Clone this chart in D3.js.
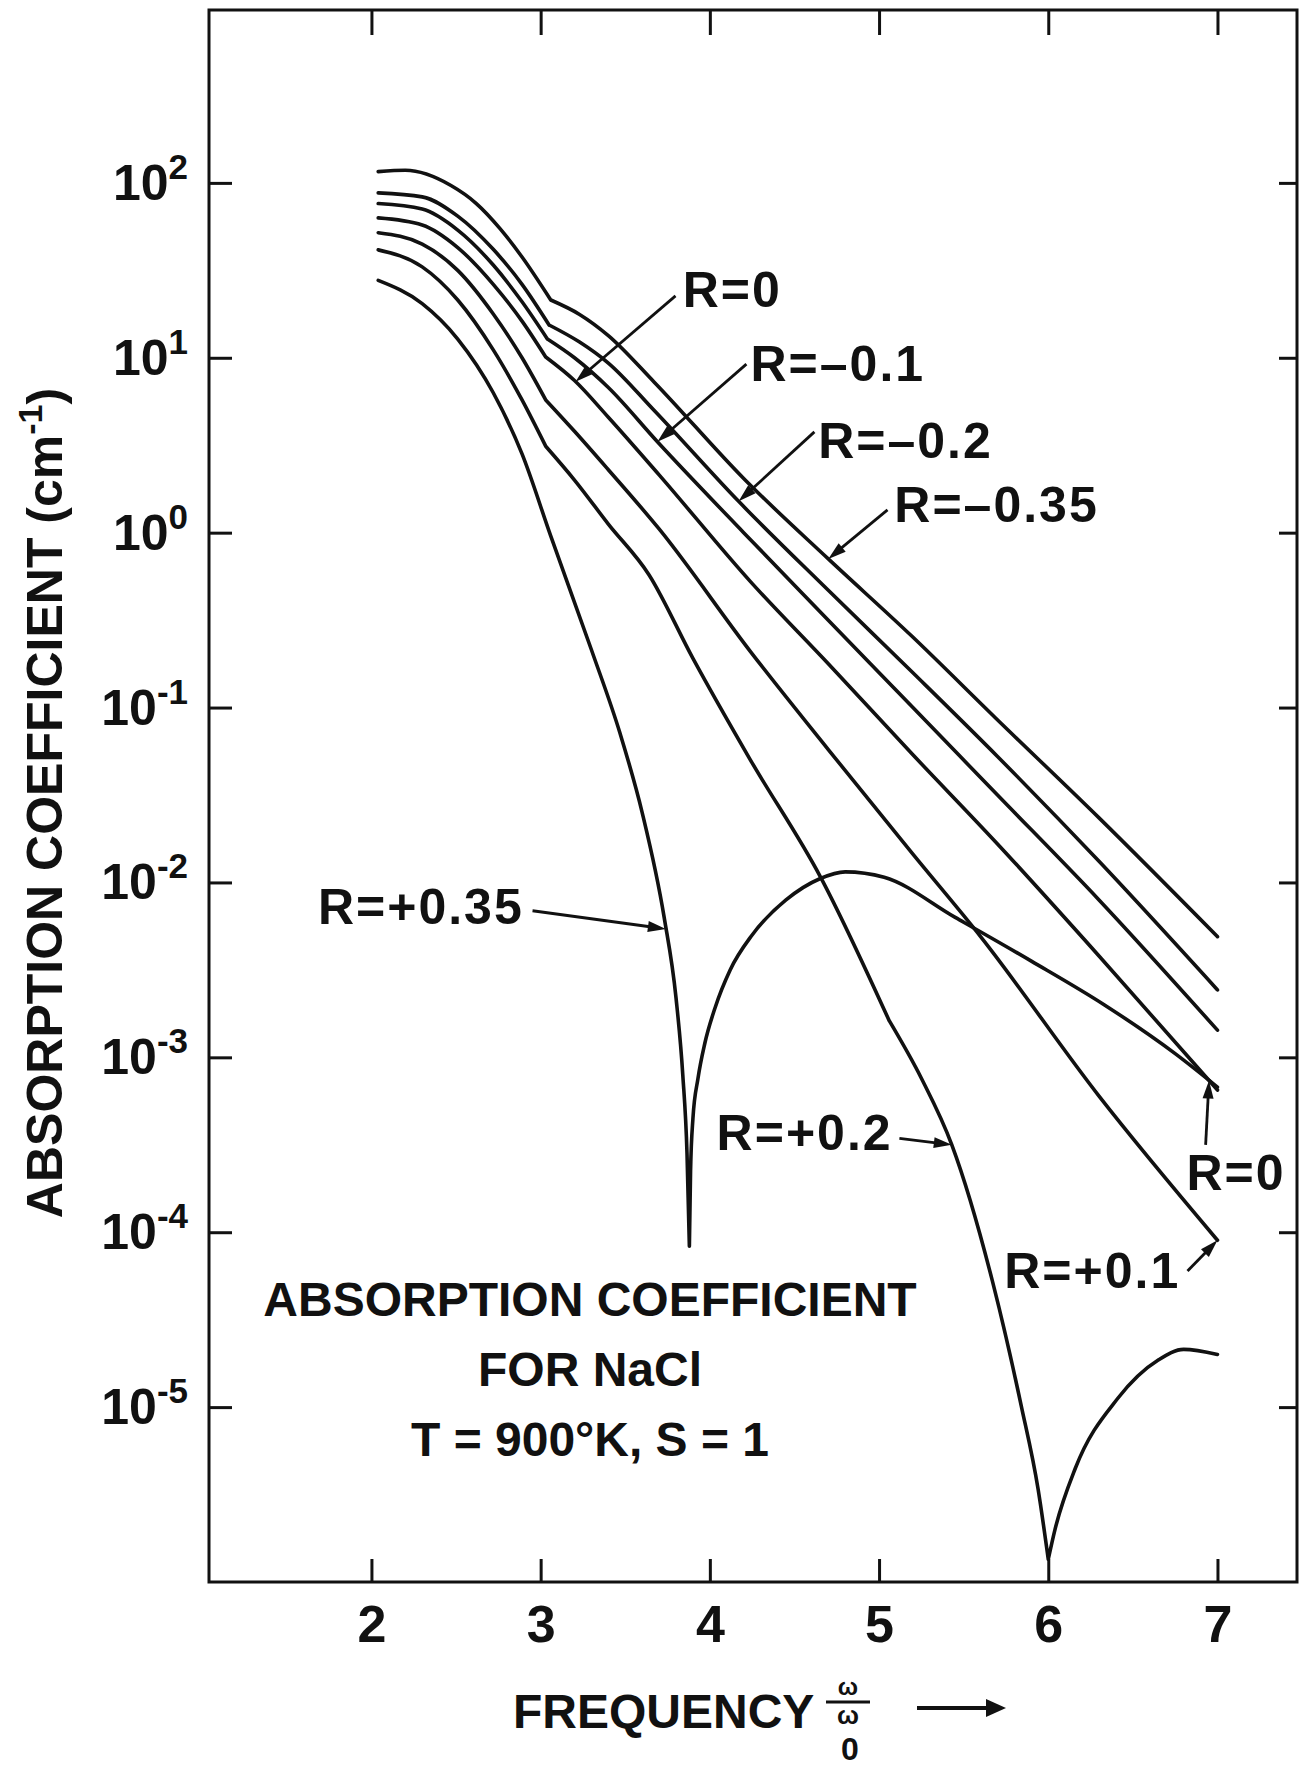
<!DOCTYPE html>
<html>
<head>
<meta charset="utf-8">
<script src="https://cdn.jsdelivr.net/npm/d3@7"></script>
<style>
  body { margin: 0; background: #fff; }
  text { font-family: "Liberation Sans", Arial, sans-serif; font-weight: bold; fill: #111; }
</style>
</head>
<body>
<svg id="chart" width="1301" height="1767"></svg>
<script>
// tick values
var xTicks = [2, 3, 4, 5, 6, 7]
var yTicks = [1e-5, 1e-4, 1e-3, 1e-2, 1e-1, 1e0, 1e1, 1e2]
var yExponents = ['-5', '-4', '-3', '-2', '-1', '0', '1', '2']

// R = -0.35
var freqRneg035 = [2.04, 2.2, 2.47, 2.62, 2.76, 2.89, 3.06, 3.23, 3.40, 3.67, 4.2, 4.7, 5.19, 5.69, 6.3, 7.0]
var absRneg035 = [116, 118, 96.6, 76.2, 54.8, 37.7, 21.4, 17.7, 13.4, 7.28, 2.04, 0.708, 0.258, 0.0869, 0.0234, 0.0049]
// R = -0.2
var freqRneg02 = [2.04, 2.3, 2.51, 2.72, 2.89, 3.05, 3.23, 3.40, 3.67, 4.17, 4.7, 5.2, 5.7, 6.3, 7.0]
var absRneg02 = [87.7, 83.2, 64.6, 41.7, 26.3, 15.4, 12.3, 9.33, 5.01, 1.51, 0.468, 0.158, 0.0525, 0.0132, 0.00243]
// R = -0.1
var freqRneg01 = [2.04, 2.3, 2.51, 2.72, 2.89, 3.04, 3.2, 3.4, 3.69, 4.2, 4.7, 5.2, 5.7, 6.3, 7.0]
var absRneg01 = [76.2, 70.8, 53.7, 33.9, 20.9, 12.8, 10.0, 6.76, 3.31, 1.0, 0.316, 0.1, 0.0316, 0.00794, 0.00143]
// R = 0
var freqR0 = [2.04, 2.3, 2.51, 2.72, 2.89, 3.03, 3.2, 3.4, 3.7, 4.24, 4.7, 5.2, 5.7, 6.3, 7.0]
var absR0 = [63.1, 57.5, 42.7, 26.3, 16.2, 10.1, 7.41, 4.57, 2.14, 0.525, 0.178, 0.0537, 0.0166, 0.0038, 0.00065]
// R = +0.1
var freqRpos01 = [2.04, 2.3, 2.51, 2.72, 2.89, 3.03, 3.2, 3.4, 3.7, 4.24, 4.7, 5.2, 5.6, 6.3, 7.0]
var absRpos01 = [51.9, 44.7, 31.6, 17.8, 10.0, 5.74, 3.80, 2.29, 1.05, 0.209, 0.0575, 0.0145, 0.0049, 0.0006, 0.00009]
// R = +0.2
var freqRpos02 = [2.04, 2.3, 2.51, 2.72, 2.89, 3.03, 3.2, 3.4, 3.64, 3.9, 4.24, 4.655, 5.06, 5.25, 5.43, 5.67, 5.84, 5.94, 6.0, 6.04, 6.16, 6.41, 6.65, 6.8, 7.0]
var absRpos02 = [41.4, 33.1, 21.4, 11.1, 5.74, 3.12, 2.0, 1.12, 0.575, 0.191, 0.0501, 0.0107, 0.00162, 0.000759, 0.000316, 0.0000525, 0.0000102, 3.39e-6, 1.35e-6, 2.0e-6, 4.47e-6, 1.12e-5, 1.86e-5, 2.14e-5, 2.0e-5]
// R = +0.35
var freqRpos035 = [2.04, 2.3, 2.51, 2.72, 2.89, 3.06, 3.3, 3.47, 3.6, 3.73, 3.8, 3.84, 3.865, 3.879, 3.886, 3.9, 3.93, 3.97, 4.03, 4.12, 4.25, 4.45, 4.65, 4.8, 5.03, 5.45, 5.9, 6.33, 6.75, 7.0]
var absRpos035 = [27.7, 20.4, 12.8, 6.31, 2.82, 0.955, 0.214, 0.0708, 0.0251, 0.00631, 0.00219, 0.000794, 0.000282, 0.0000832, 0.000224, 0.000447, 0.000759, 0.0012, 0.00191, 0.00316, 0.00501, 0.00794, 0.0105, 0.0115, 0.0107, 0.00631, 0.00355, 0.002, 0.00105, 0.000676]

// points where the curve has a corner (kink at 3, zeros)
var series = [
  { name: 'R=-0.35', f: freqRneg035, a: absRneg035, corners: [6] },
  { name: 'R=-0.2', f: freqRneg02, a: absRneg02, corners: [5] },
  { name: 'R=-0.1', f: freqRneg01, a: absRneg01, corners: [5] },
  { name: 'R=0', f: freqR0, a: absR0, corners: [5] },
  { name: 'R=+0.1', f: freqRpos01, a: absRpos01, corners: [5] },
  { name: 'R=+0.2', f: freqRpos02, a: absRpos02, corners: [5, 12, 18] },
  { name: 'R=+0.35', f: freqRpos035, a: absRpos035, corners: [13] }
]

// labels with leader arrows: tip sits on a curve, tail and text in data units
var notes = [
  { text: 'R=0', on: 'R=0', tipF: 3.206, tail: [3.797, 22.6], at: [3.84, 19.5], anchor: 'start' },
  { text: 'R=\u20130.1', on: 'R=-0.1', tipF: 3.69, tail: [4.216, 9.2], at: [4.24, 7.4], anchor: 'start' },
  { text: 'R=\u20130.2', on: 'R=-0.2', tipF: 4.17, tail: [4.618, 3.77], at: [4.64, 2.68], anchor: 'start' },
  { text: 'R=\u20130.35', on: 'R=-0.35', tipF: 4.70, tail: [5.05, 1.35], at: [5.09, 1.15], anchor: 'start' },
  { text: 'R=+0.35', on: 'R=+0.35', tipF: 3.74, tail: [2.952, 0.00689], at: [2.90, 0.00575], anchor: 'end' },
  { text: 'R=+0.2', on: 'R=+0.2', tipF: 5.43, tail: [5.12, 0.000344], at: [5.08, 0.000295], anchor: 'end' },
  { text: 'R=0', on: 'R=0', tipF: 6.95, tail: [6.93, 0.000316], at: [7.11, 0.000175], anchor: 'middle' },
  { text: 'R=+0.1', on: 'R=+0.1', tipF: 7.0, tail: [6.823, 0.00006], at: [6.78, 0.000048], anchor: 'end' }
]

var svg = d3.select('#chart')

var x = d3.scaleLinear().domain([1.04, 7.47]).range([209, 1297])
var y = d3.scaleLog().domain([1e-6, 1e3]).range([1582, 8])

// frame
svg.append('rect')
  .attr('x', 209).attr('y', 10)
  .attr('width', 1088).attr('height', 1572)
  .attr('fill', 'none').attr('stroke', '#111').attr('stroke-width', 3)

function styleTicks (g) {
  g.select('.domain').remove()
  g.selectAll('.tick line').attr('stroke', '#111').attr('stroke-width', 3)
}

var bottom = svg.append('g')
  .attr('transform', 'translate(0,1582)')
  .call(d3.axisBottom(x).tickValues(xTicks).tickSizeInner(-23).tickSizeOuter(0)
    .tickPadding(23).tickFormat(d3.format('d')))
  .call(styleTicks)
bottom.selectAll('text')
  .style('font-size', '52px')
  .style('font-family', '"Liberation Sans", Arial, sans-serif')
  .style('font-weight', 'bold')
  .attr('fill', '#111')

svg.append('g')
  .attr('transform', 'translate(0,10)')
  .call(d3.axisTop(x).tickValues(xTicks).tickSizeInner(-25).tickSizeOuter(0).tickFormat(''))
  .call(styleTicks)

svg.append('g')
  .attr('transform', 'translate(209,0)')
  .call(d3.axisLeft(y).tickValues(yTicks).tickSizeInner(-23).tickSizeOuter(0).tickFormat(''))
  .call(styleTicks)

svg.append('g')
  .attr('transform', 'translate(1297,0)')
  .call(d3.axisRight(y).tickValues(yTicks).tickSizeInner(-18).tickSizeOuter(0).tickFormat(''))
  .call(styleTicks)

// y tick labels 10^n
var ylab = svg.append('g').selectAll('text')
  .data(yTicks)
  .enter().append('text')
    .attr('x', 188)
    .attr('y', function (d) { return y(d) + 17 })
    .attr('text-anchor', 'end')
    .style('font-size', '50px')
    .text('10')
ylab.append('tspan')
  .attr('dy', -21)
  .style('font-size', '35px')
  .text(function (d, i) { return yExponents[i] })

// curves
var line = d3.line()
  .x(function (d) { return x(d[0]) })
  .y(function (d) { return y(d[1]) })
  .curve(d3.curveMonotoneX)

function curvePath (s) {
  var pts = s.f.map(function (f, i) { return [f, s.a[i]] })
  var start = 0
  var d = ''
  s.corners.forEach(function (c) {
    d += line(pts.slice(start, c + 1))
    start = c
  })
  return d + line(pts.slice(start))
}

svg.append('g').selectAll('path')
  .data(series)
  .enter().append('path')
    .attr('d', curvePath)
    .attr('fill', 'none')
    .attr('stroke', '#111')
    .attr('stroke-width', 3.6)
    .attr('stroke-linejoin', 'round')
    .attr('stroke-linecap', 'round')

// value on a curve, interpolated in log space
function valueAt (name, f) {
  var s = series.filter(function (d) { return d.name === name })[0]
  var i = d3.bisectLeft(s.f, f)
  if (i <= 0) return s.a[0]
  if (i >= s.f.length) return s.a[s.f.length - 1]
  var t = (f - s.f[i - 1]) / (s.f[i] - s.f[i - 1])
  return Math.pow(10, Math.log10(s.a[i - 1]) + t * (Math.log10(s.a[i]) - Math.log10(s.a[i - 1])))
}

var noteG = svg.append('g')
notes.forEach(function (n) {
  var tx = x(n.tipF)
  var ty = y(valueAt(n.on, n.tipF))
  var sx = x(n.tail[0])
  var sy = y(n.tail[1])
  var len = Math.hypot(tx - sx, ty - sy)
  var ux = (tx - sx) / len
  var uy = (ty - sy) / len
  var L = 18
  var W = 5.5

  noteG.append('line')
    .attr('x1', sx).attr('y1', sy)
    .attr('x2', tx - ux * (L - 2)).attr('y2', ty - uy * (L - 2))
    .attr('stroke', '#111').attr('stroke-width', 2.8)

  noteG.append('path')
    .attr('d', 'M' + tx + ',' + ty +
      'L' + (tx - ux * L - uy * W) + ',' + (ty - uy * L + ux * W) +
      'L' + (tx - ux * L + uy * W) + ',' + (ty - uy * L - ux * W) + 'Z')
    .attr('fill', '#111')

  noteG.append('text')
    .attr('x', x(n.at[0]))
    .attr('y', y(n.at[1]))
    .attr('text-anchor', n.anchor)
    .style('font-size', '50px')
    .style('letter-spacing', '2px')
    .text(n.text)
})

// caption inside the plot
var caption = ['ABSORPTION COEFFICIENT', 'FOR NaCl', 'T = 900\u00b0K, S = 1']
svg.append('g').selectAll('text')
  .data(caption)
  .enter().append('text')
    .attr('x', 590)
    .attr('y', function (d, i) { return 1316 + i * 70 })
    .attr('text-anchor', 'middle')
    .style('font-size', '48px')
    .text(function (d) { return d })

// y axis title
var ytitle = svg.append('text')
  .attr('transform', 'translate(62,803) rotate(-90)')
  .attr('text-anchor', 'middle')
  .style('font-size', '50px')
  .text('ABSORPTION COEFFICIENT (cm')
ytitle.append('tspan').attr('dy', -20).style('font-size', '34px').text('-1')
ytitle.append('tspan').attr('dy', 20).style('font-size', '50px').text(')')

// x axis title
svg.append('text')
  .attr('x', 513).attr('y', 1728)
  .style('font-size', '48px')
  .text('FREQUENCY')
svg.append('text')
  .attr('x', 848).attr('y', 1695)
  .attr('text-anchor', 'middle')
  .style('font-size', '24px')
  .text('\u03c9')
svg.append('line')
  .attr('x1', 826).attr('x2', 870)
  .attr('y1', 1702).attr('y2', 1702)
  .attr('stroke', '#111').attr('stroke-width', 3)
svg.append('text')
  .attr('x', 848).attr('y', 1724)
  .attr('text-anchor', 'middle')
  .style('font-size', '26px')
  .text('\u03c9')
svg.append('text')
  .attr('x', 850).attr('y', 1760)
  .attr('text-anchor', 'middle')
  .style('font-size', '32px')
  .text('0')
svg.append('line')
  .attr('x1', 917).attr('x2', 990)
  .attr('y1', 1708).attr('y2', 1708)
  .attr('stroke', '#111').attr('stroke-width', 4)
svg.append('path')
  .attr('d', 'M1006,1708L986,1699L986,1717Z')
  .attr('fill', '#111')
</script>
</body>
</html>
